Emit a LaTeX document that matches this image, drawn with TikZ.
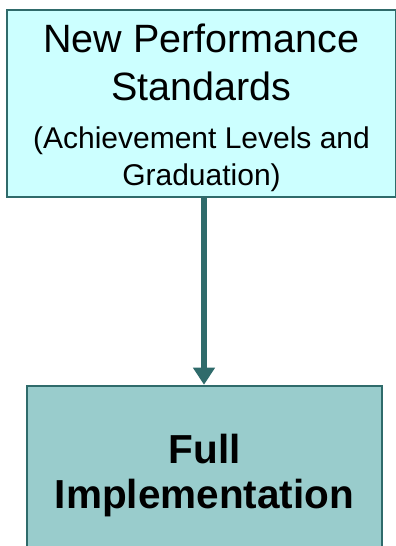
\documentclass[tikz,border=0pt]{standalone}
\usepackage{fontspec}
\setmainfont{Liberation Sans}
\usetikzlibrary{arrows.meta}
\definecolor{tealline}{HTML}{2F6B6B}
\definecolor{paleaqua}{HTML}{CCFFFF}
\definecolor{dullaqua}{HTML}{99CCCC}
\newcommand{\subtxt}{\fontsize{30}{37}\selectfont}

\begin{document}
\begin{tikzpicture}[x=1pt, y=1pt,
    stdbox/.style={draw=tealline, line width=2.5pt, fill=paleaqua, minimum width=389pt, minimum height=187pt, align=center, inner sep=0pt, font=\fontsize{39.5}{48}\selectfont},
    implbox/.style={draw=tealline, line width=2.5pt, fill=dullaqua, minimum width=355pt, minimum height=180pt, align=center, inner sep=0pt, font=\fontsize{40.5}{45}\selectfont\bfseries}]
  \useasboundingbox (0,0) rectangle (396,546);
  \clip (0,0) rectangle (396,546);
  \node[stdbox] (std) at (201.5,442.5) {\rule{0pt}{38pt}New Performance\\Standards\\[0pt]{\subtxt (Achievement Levels and}\\[-11pt]{\subtxt Graduation)}};
  \node[implbox] (impl) at (204.5,70) {Full\\Implementation};
  \draw[line width=6.5pt, tealline, -{Triangle[width=21pt, length=17pt]}] ([xshift=2.5pt]std.south) -- ([xshift=2.5pt]std.south |- impl.north);
\end{tikzpicture}
\end{document}
